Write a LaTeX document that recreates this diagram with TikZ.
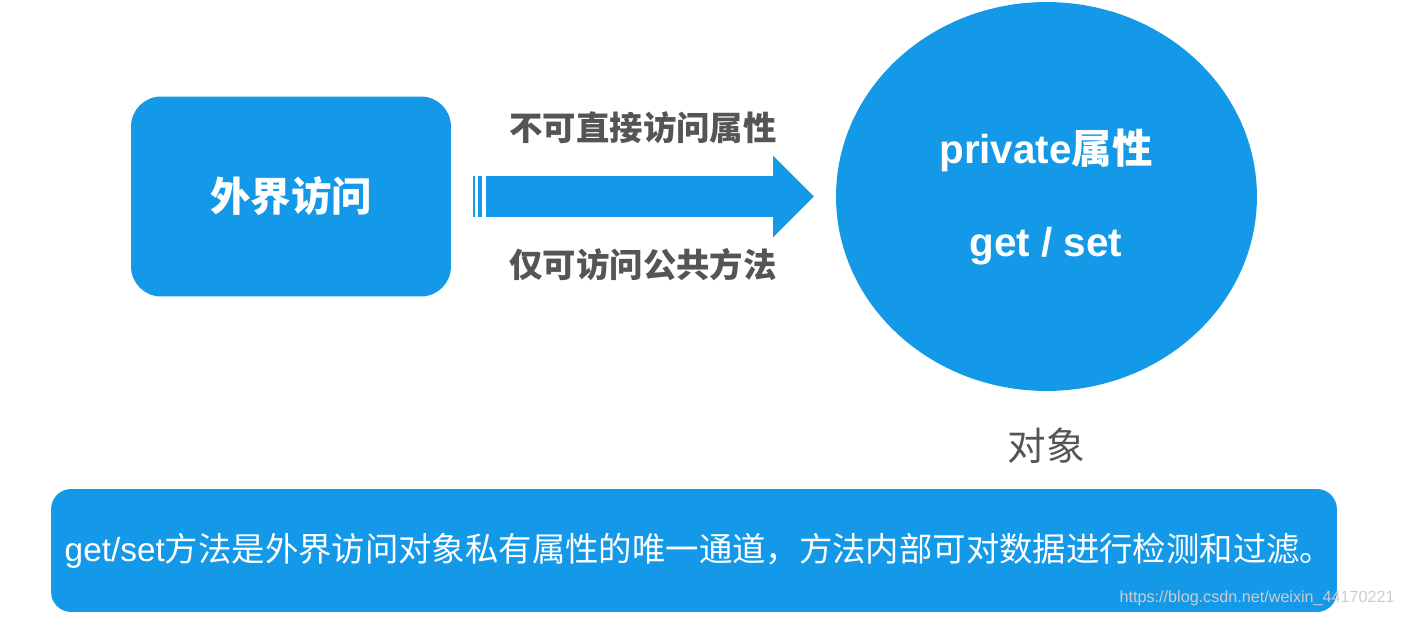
\documentclass[tikz,border=0pt]{standalone}
\usepackage{fontspec}
\setmainfont{Liberation Sans}
\newfontfamily\cjk{Noto Sans CJK SC}
\usepackage{xcolor}
\usepackage{tikz}
\usetikzlibrary{arrows.meta,positioning,shapes.geometric}

\definecolor{brandblue}{RGB}{20,153,233}
\definecolor{labelgray}{RGB}{85,85,85}

\begin{document}
\begin{tikzpicture}[
    x=0.02cm, y=-0.02cm,
    box/.style={rectangle, fill=brandblue, rounded corners=0.6cm,
                minimum width=6.4cm, minimum height=4cm, align=center,
                text=white, font=\fontsize{23}{27}\selectfont\bfseries\cjk},
    obj/.style={ellipse, fill=brandblue, inner sep=0pt,
                minimum width=8.42cm, minimum height=7.78cm},
    intext/.style={text=white, font=\fontsize{23}{27}\selectfont\bfseries},
    label/.style={text=labelgray, font=\fontsize{19}{23}\selectfont\bfseries\cjk},
    note/.style={rectangle, fill=brandblue, rounded corners=0.4cm, inner xsep=2pt,
                 minimum width=25.72cm, minimum height=2.46cm,
                 text=white, font=\fontsize{19}{23}\selectfont},
    bigarrow/.style={brandblue, line width=0.82cm, line cap=butt,
                     -{Triangle[length=0.82cm, width=1.58cm]}}
]
\useasboundingbox (0,0) rectangle (1401,618);

\node[box] (outside) at (291,196.5) {外界访问};
\node[obj] (object) at (1046.5,196.5) {};
\node[intext] (priv) at (1046,150) {private{\cjk 属性}};
\node[intext] (getset) at (1046,246) {get / set};
\node[text=labelgray, font=\fontsize{22}{26}\selectfont\cjk] (objname) at (1046,446) {对象};

% block arrow with striped tail
\coordinate (tail) at (486,196.5);
\coordinate (tip) at (814,196.5);
\fill[brandblue] (473,176) rectangle (475,217);
\fill[brandblue] (478,176) rectangle (482,217);
\draw[bigarrow] (tail) -- (tip);
\node[label] (nodirect) at (643,128) {不可直接访问属性};
\node[label] (public) at (643,265) {仅可访问公共方法};

\node[note] (summary) at (694,550.5) {\hspace*{0.2cm}get/set{\cjk 方法是外界访问对象私有属性的唯一通道，方法内部可对数据进行检测和过滤。}};
\node[text=white!80!black, font=\fontsize{9.2}{11}\selectfont, inner sep=0pt, anchor=east] (mark) at (1395,598) {https://blog.csdn.net/weixin\_44170221};
\end{tikzpicture}
\end{document}
